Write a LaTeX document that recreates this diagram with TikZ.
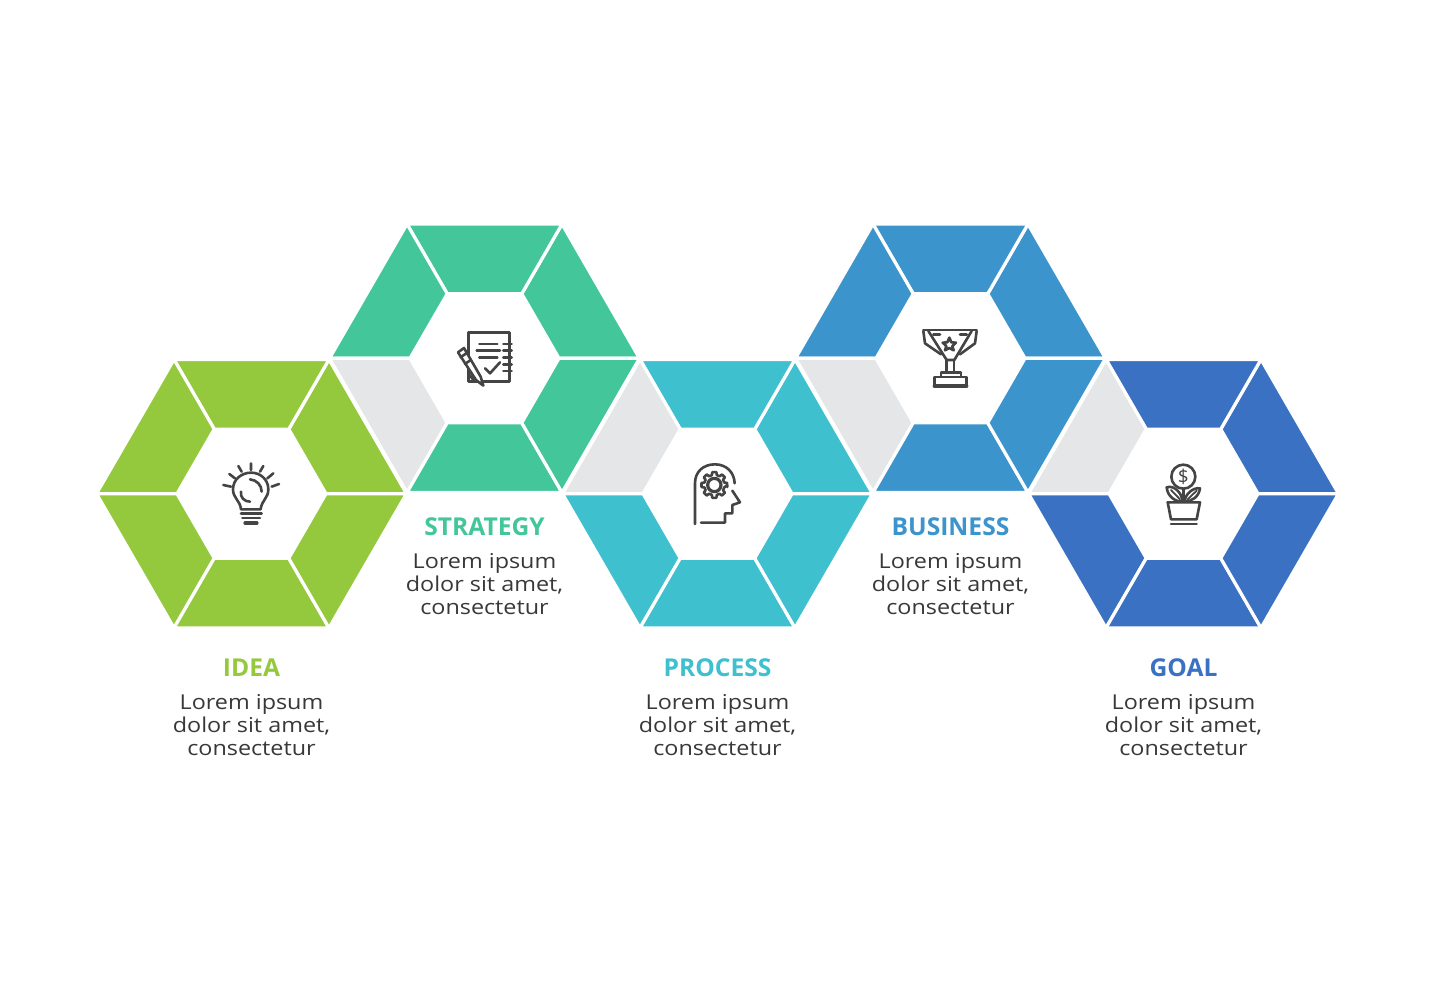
\documentclass[tikz,border=0pt]{standalone}
\usepackage{fontspec}
\setmainfont{Open Sans}
\newfontfamily\widebody[FakeStretch=1.14]{Open Sans}
\definecolor{cgreen}{HTML}{95C93D}
\definecolor{cteal}{HTML}{42C69A}
\definecolor{ccyan}{HTML}{3EC0CF}
\definecolor{cblue}{HTML}{3C94CC}
\definecolor{cdeep}{HTML}{3B71C3}
\definecolor{cgray}{HTML}{E5E6E8}
\definecolor{cink}{HTML}{444444}
\definecolor{cbody}{HTML}{383838}
\tikzset{
  ringseg/.style={draw=white,line width=3.2pt,line join=miter},
  titletext/.style={font=\fontsize{24.6}{28}\selectfont\bfseries,anchor=center,inner sep=0pt},
  bodytext/.style={font=\widebody\fontsize{20.5}{23}\selectfont,text=cbody,align=center,anchor=north,inner sep=0pt},
  icon/.style={x=0.3333pt,y=-0.3333pt,draw=cink,line width=2.6pt,line cap=round,line join=round},
}
% centre x, centre y, colour, index of the gray segment (-1: none)
\newcommand{\hexring}[4]{%
  \begin{scope}[shift={(#1,#2)}]
    \foreach \i in {0,...,5}{%
      \pgfmathsetmacro{\aa}{60*\i}%
      \pgfmathsetmacro{\bb}{60*\i+60}%
      \ifnum\i=#4\relax\def\segcol{cgray}\else\def\segcol{#3}\fi
      \fill[\segcol,ringseg] (\aa:155pt) -- (\bb:155pt) -- (\bb:74.5pt) -- (\aa:74.5pt) -- cycle;
    }
  \end{scope}}
\begin{document}
\begin{tikzpicture}[x=1pt,y=-1pt]
\useasboundingbox (0,0) rectangle (1435,980);
\fill[white] (0,0) rectangle (1435,980);
\hexring{251.5}{493.7}{cgreen}{-1}
\hexring{484.5}{358.3}{cteal}{3}
\hexring{717.5}{493.7}{ccyan}{2}
\hexring{950.5}{358.3}{cblue}{3}
\hexring{1183.5}{493.7}{cdeep}{2}
% texts
\node[titletext,text=cgreen] (t1) at (251.5,667.5) {IDEA};
\node[bodytext] (b1) at (251.5,694.2) {Lorem ipsum\\dolor sit amet,\\consectetur};
\node[titletext,text=cteal] (t2) at (484.5,526.5) {STRATEGY};
\node[bodytext] (b2) at (484.5,553.2) {Lorem ipsum\\dolor sit amet,\\consectetur};
\node[titletext,text=ccyan] (t3) at (717.5,667.5) {PROCESS};
\node[bodytext] (b3) at (717.5,694.2) {Lorem ipsum\\dolor sit amet,\\consectetur};
\node[titletext,text=cblue] (t4) at (950.5,526.5) {BUSINESS};
\node[bodytext] (b4) at (950.5,553.2) {Lorem ipsum\\dolor sit amet,\\consectetur};
\node[titletext,text=cdeep] (t5) at (1183.5,667.5) {GOAL};
\node[bodytext] (b5) at (1183.5,694.2) {Lorem ipsum\\dolor sit amet,\\consectetur};
% bulb
\begin{scope}[shift={(205,450)},icon]
  \draw (138,40)--(138,60) (100,48)--(110,65) (73,72)--(90,85) (55,105)--(78,110)
        (175,48)--(165,65) (205,70)--(187,85) (222,102)--(200,110);
  \draw (108,178) .. controls (105,150) and (84,145) .. (84,118)
        .. controls (84,88) and (110,68) .. (138,68)
        .. controls (166,68) and (190,88) .. (190,118)
        .. controls (190,145) and (170,150) .. (167,178) -- cycle;
  \draw (135,88) .. controls (155,90) and (170,105) .. (170,125);
  \draw (108,125) .. controls (105,142) and (118,155) .. (135,155);
  \draw (108,191)--(170,191) (112,204)--(165,204);
  \draw[line width=3.2pt] (120,219)--(156,219);
\end{scope}
% notebook
\begin{scope}[shift={(440,320)},icon]
  \draw (85,37) rectangle (208,185);
  \draw (118,72)--(172,72) (110,92)--(180,92) (118,113)--(172,113);
  \draw (135,145)--(150,160)--(180,127);
  \foreach \yy in {72,92,113,133,153}{\draw (190,\yy)--(215,\yy);}
  \filldraw[fill=white] (54,97)--(72,84)--(122,170)--(130,197)--(108,180)--cycle;
  \draw (62,112)--(80,99) (75,132)--(92,120);
  \draw (85,160)--(104,185);
\end{scope}
% head
\begin{scope}[shift={(675,450)},icon]
  \draw (60,222)--(60,100) .. controls (60,65) and (85,43) .. (120,43)
        .. controls (155,43) and (178,68) .. (179,100);
  \draw (172,122)--(195,157)--(172,165)--(172,190)--(150,190)--(150,218)--(78,218);
  \begin{scope}[shift={(118,105)}]
    \draw[line width=3.2pt] (0,0) circle[radius=20];
    \draw (0:13pt)
      \foreach \k in {0,45,...,315}{
        -- (\k-9:13pt) -- (\k+9:13pt) -- (\k+14:10.2pt) -- (\k+31:10.2pt)
      } -- cycle;
  \end{scope}
\end{scope}
% trophy
\begin{scope}[shift={(905,315)},icon]
  \draw (55,45)--(215,45);
  \draw (85,58)--(105,58) (165,58)--(185,58);
  \draw (70,48)--(125,135)--(148,135)--(200,48);
  \draw (55,48)--(60,85)--(108,118);
  \draw (215,48)--(210,85)--(165,118);
  \draw (133,68)--(139,82)--(153,83)--(142,93)--(146,106)--(133,99)--(120,106)--(124,93)--(113,83)--(127,82)--cycle;
  \draw (125,135)--(125,172) (147,135)--(147,172);
  \draw (108,183)--(108,173)--(168,173)--(168,183);
  \draw (88,186)--(185,186)--(185,214)--(88,214)--cycle;
  \draw[line width=3.4pt] (88,213)--(185,213);
\end{scope}
% plant
\begin{scope}[shift={(1145,450)},icon]
  \draw (115,80) circle[radius=36];
  \draw (115,116)--(115,155);
  \node[font=\fontsize{19}{19}\selectfont,text=cink,inner sep=0pt] (dollar) at (115,80) {\$};
  \draw (65,112) .. controls (85,105) and (110,125) .. (113,155) .. controls (90,155) and (68,140) .. (65,112) -- cycle;
  \draw (165,115) .. controls (145,112) and (122,130) .. (118,155) .. controls (140,155) and (162,140) .. (165,115) -- cycle;
  \draw[line width=1.8pt] (78,120)--(105,148) (155,122)--(128,148);
  \draw (68,157)--(165,157)--(155,208)--(78,208)--cycle;
  \draw (78,222)--(155,222);
\end{scope}
\end{tikzpicture}
\end{document}
